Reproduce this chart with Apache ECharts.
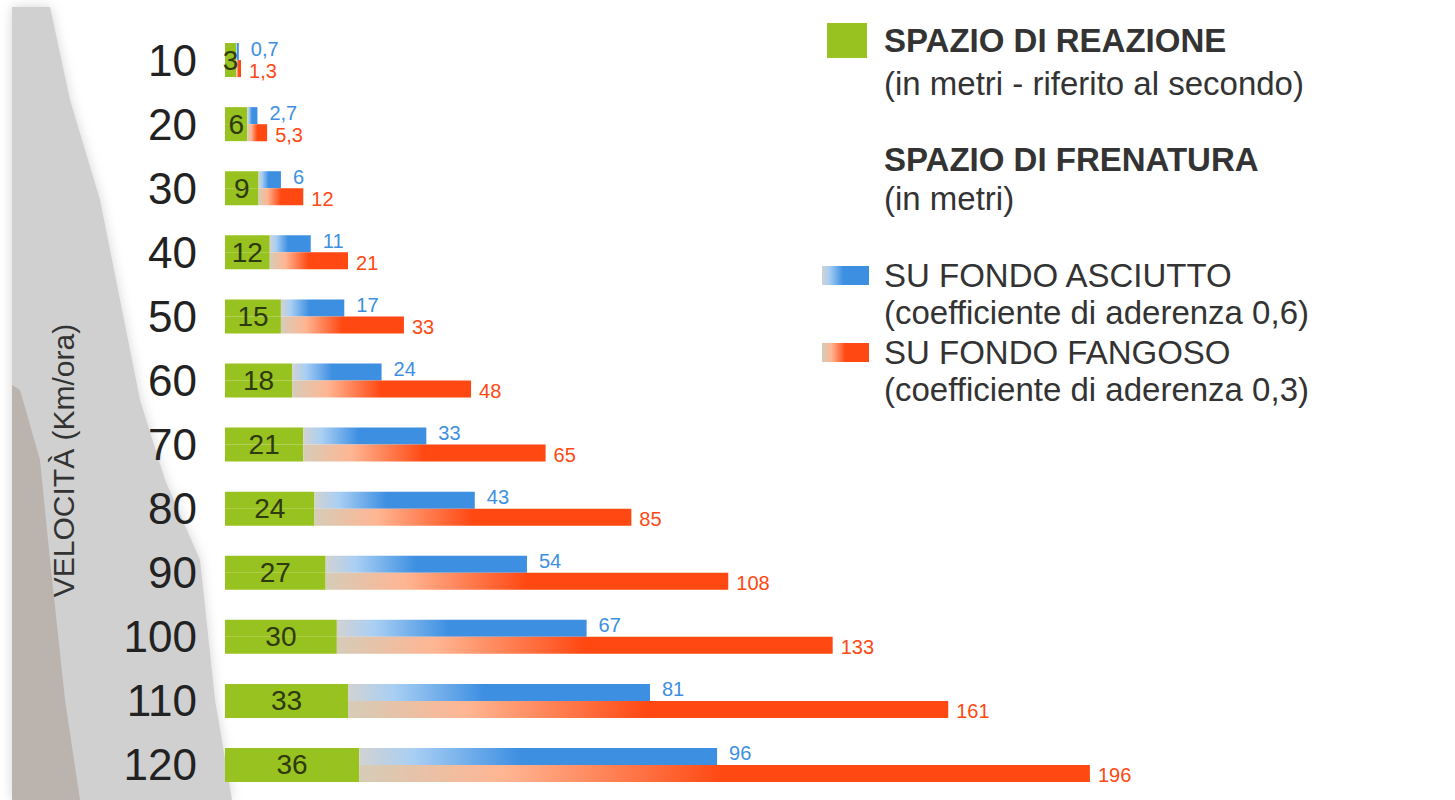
<!DOCTYPE html>
<html>
<head>
<meta charset="utf-8">
<script src="https://cdn.jsdelivr.net/npm/echarts@6/dist/echarts.min.js"></script>
<style>
  html, body { margin: 0; padding: 0; background: #fff; }
  #chart { width: 1455px; height: 800px; }
</style>
</head>
<body>
<div id="chart"></div>
<script>
const speeds = ['10', '20', '30', '40', '50', '60', '70', '80', '90', '100', '110', '120'];
const reactionSpace = [3, 6, 9, 12, 15, 18, 21, 24, 27, 30, 33, 36];
const brakingDry = [0.7, 2.7, 6, 11, 17, 24, 33, 43, 54, 67, 81, 96];
const brakingMud = [1.3, 5.3, 12, 21, 33, 48, 65, 85, 108, 133, 161, 196];

const FONT = '"Liberation Sans", Arial, sans-serif';
const GREEN = '#98c21f';
const BLUE = '#3d8fe2';
const RED = '#ff4812';

const blueFill = new echarts.graphic.LinearGradient(0, 0, 1, 0, [
  { offset: 0, color: '#d2d2d2' },
  { offset: 0.15, color: '#a9cff4' },
  { offset: 0.45, color: BLUE },
  { offset: 1, color: BLUE }
]);
const redFill = new echarts.graphic.LinearGradient(0, 0, 1, 0, [
  { offset: 0, color: '#d6ccb8' },
  { offset: 0.2, color: '#ffb592' },
  { offset: 0.5, color: RED },
  { offset: 1, color: RED }
]);

const comma = p => String(p.value).replace('.', ',');

const chart = echarts.init(document.getElementById('chart'), null, { renderer: 'svg' });

const option = {
  backgroundColor: '#fff',
  animation: false,
  grid: { left: 225, right: 298, top: 28, bottom: 3 },
  xAxis: { type: 'value', min: 0, max: 250, show: false },
  yAxis: {
    type: 'category',
    data: speeds,
    inverse: true,
    axisLine: { show: false },
    axisTick: { show: false },
    axisLabel: { fontSize: 44, color: '#222', fontFamily: FONT, margin: 28 },
    name: 'VELOCITÀ (Km/ora)',
    nameLocation: 'middle',
    nameRotate: 90,
    nameGap: 147,
    nameTextStyle: { fontSize: 30, color: '#333', fontFamily: FONT, padding: [0, 96, 0, 0] }
  },
  legend: [
    {
      data: ['SPAZIO DI REAZIONE'], left: 822, top: 18, icon: 'rect',
      itemWidth: 40, itemHeight: 35, selectedMode: false,
      textStyle: { fontSize: 33, fontWeight: 'bold', color: '#333', fontFamily: FONT, padding: [0, 0, 0, 12] }
    },
    {
      data: ['SU FONDO ASCIUTTO'], left: 817, top: 254, icon: 'rect',
      itemWidth: 47, itemHeight: 19, selectedMode: false,
      textStyle: { fontSize: 33, color: '#333', fontFamily: FONT, padding: [0, 0, 0, 10] }
    },
    {
      data: ['SU FONDO FANGOSO'], left: 817, top: 331, icon: 'rect',
      itemWidth: 47, itemHeight: 19, selectedMode: false,
      textStyle: { fontSize: 33, color: '#333', fontFamily: FONT, padding: [0, 0, 0, 10] }
    }
  ],
  graphic: [
    {
      type: 'polygon', z: -10, silent: true,
      shape: { points: [[12, 7], [50, 7], [70, 100], [100, 200], [120, 300], [140, 400], [165, 480], [200, 560], [215, 700], [232, 800], [12, 800]] },
      style: { fill: '#d0d0d0', shadowBlur: 12, shadowColor: 'rgba(208,208,208,0.9)' }
    },
    {
      type: 'polygon', z: -9, silent: true,
      shape: { points: [[12, 385], [20, 390], [40, 460], [50, 560], [65, 700], [80, 800], [12, 800]] },
      style: { fill: '#bab3ae' }
    },
    { type: 'text', left: 884, top: 67, style: { text: '(in metri - riferito al secondo)', fill: '#333', font: '33px ' + FONT } },
    { type: 'text', left: 884, top: 143, style: { text: 'SPAZIO DI FRENATURA', fill: '#333', font: 'bold 33px ' + FONT } },
    { type: 'text', left: 884, top: 182, style: { text: '(in metri)', fill: '#333', font: '33px ' + FONT } },
    { type: 'text', left: 884, top: 296, style: { text: '(coefficiente di aderenza 0,6)', fill: '#333', font: '33px ' + FONT } },
    { type: 'text', left: 884, top: 373, style: { text: '(coefficiente di aderenza 0,3)', fill: '#333', font: '33px ' + FONT } }
  ],
  series: [
    {
      name: 'SPAZIO DI REAZIONE', type: 'bar', stack: 'dry', data: reactionSpace,
      barWidth: 17, barGap: '0%',
      itemStyle: { color: GREEN },
      label: {
        show: true, position: ['50%', '100%'], align: 'center', verticalAlign: 'middle',
        fontSize: 28, color: '#2e3a10', fontFamily: FONT
      }
    },
    {
      name: 'SU FONDO ASCIUTTO', type: 'bar', stack: 'dry', data: brakingDry,
      barWidth: 17, barGap: '0%',
      itemStyle: { color: blueFill },
      label: {
        show: true, position: 'right', distance: 12, offset: [0, -3],
        fontSize: 20, color: BLUE, fontFamily: FONT, formatter: comma
      }
    },
    {
      name: 'SPAZIO DI REAZIONE', type: 'bar', stack: 'mud', data: reactionSpace,
      barWidth: 17, barGap: '0%',
      itemStyle: { color: GREEN }
    },
    {
      name: 'SU FONDO FANGOSO', type: 'bar', stack: 'mud', data: brakingMud,
      barWidth: 17, barGap: '0%',
      itemStyle: { color: redFill },
      label: {
        show: true, position: 'right', distance: 8, offset: [0, 2],
        fontSize: 20, color: RED, fontFamily: FONT, formatter: comma
      }
    }
  ]
};

chart.setOption(option);
</script>
</body>
</html>
